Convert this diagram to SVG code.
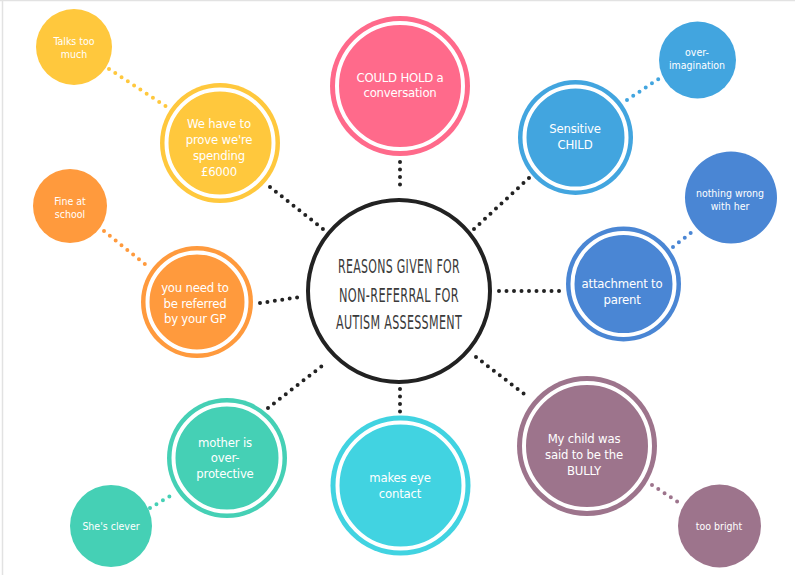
<svg xmlns="http://www.w3.org/2000/svg" width="795" height="575" viewBox="0 0 795 575">
<style>
.t{font-family:"Liberation Sans Narrow","DejaVu Sans Condensed","Liberation Sans",sans-serif;font-size:13px;fill:#fff;text-anchor:middle;letter-spacing:-0.2px}
.ts{font-size:10.5px;letter-spacing:0}
.ct{font-family:"Liberation Sans Narrow","DejaVu Sans Condensed","Liberation Sans",sans-serif;font-size:20px;fill:#3a3a3a;text-anchor:middle;letter-spacing:0.5px}
.dk{stroke:#222;stroke-width:4;stroke-linecap:round;stroke-dasharray:0 7.5;fill:none}
.dc{stroke-width:4;stroke-linecap:round;stroke-dasharray:0 7.5;fill:none}
.ring{stroke:#fff;stroke-width:4;fill:none}
</style>
<rect width="795" height="575" fill="#fff"/>
<line x1="0" y1="0.5" x2="795" y2="0.5" stroke="#e2e2e2" stroke-width="1.5"/>
<line x1="2.5" y1="0" x2="2.5" y2="575" stroke="#e2e2e2" stroke-width="1.5"/>

<g id="connectors">
<line class="dk" x1="400" y1="162" x2="400" y2="192"/>
<line class="dk" x1="270" y1="187" x2="323" y2="229"/>
<line class="dk" x1="474" y1="229" x2="530" y2="177"/>
<line class="dk" x1="499" y1="291" x2="560" y2="291"/>
<line class="dk" x1="260" y1="303" x2="300" y2="297"/>
<line class="dk" x1="268" y1="408" x2="322" y2="366"/>
<line class="dk" x1="400" y1="389" x2="400" y2="413"/>
<line class="dk" x1="476" y1="357" x2="528" y2="397"/>
<line class="dc" stroke="#FFC83D" x1="109" y1="69" x2="167" y2="107"/>
<line class="dc" stroke="#42A5DF" x1="627" y1="100" x2="660" y2="78"/>
<line class="dc" stroke="#4A86D4" x1="673" y1="247" x2="692" y2="232"/>
<line class="dc" stroke="#FF9A3D" x1="104" y1="231" x2="146" y2="265"/>
<line class="dc" stroke="#45D0B5" x1="150" y1="508" x2="172" y2="495"/>
<line class="dc" stroke="#9D748C" x1="652" y1="485" x2="678" y2="502"/>
</g>

<g id="center">
<circle cx="399" cy="291" r="91" fill="#fff" stroke="#222" stroke-width="4"/>
<text class="ct" x="399" y="273" textLength="122" lengthAdjust="spacingAndGlyphs">REASONS GIVEN FOR</text>
<text class="ct" x="399" y="302" textLength="120" lengthAdjust="spacingAndGlyphs">NON-REFERRAL FOR</text>
<text class="ct" x="399" y="329" textLength="126" lengthAdjust="spacingAndGlyphs">AUTISM ASSESSMENT</text>
</g>

<g id="conversation">
<circle cx="400" cy="86" r="70" fill="#FF6A8B"/>
<circle class="ring" cx="400" cy="86" r="63"/>
<text class="t" x="400" y="82">COULD HOLD a</text>
<text class="t" x="400" y="97">conversation</text>
</g>

<g id="spending">
<circle cx="220" cy="143" r="60" fill="#FFC83D"/>
<circle class="ring" cx="220" cy="143" r="53.5"/>
<text class="t" x="219" y="128">We have to</text>
<text class="t" x="219" y="144">prove we're</text>
<text class="t" x="219" y="160">spending</text>
<text class="t" x="219" y="176">£6000</text>
</g>

<g id="talks">
<circle cx="74" cy="47" r="38" fill="#FFC83D"/>
<text class="t ts" x="74" y="45">Talks too</text>
<text class="t ts" x="74" y="58">much</text>
</g>

<g id="sensitive">
<circle cx="575.5" cy="137.5" r="57.5" fill="#42A5DF"/>
<circle class="ring" cx="575.5" cy="137.5" r="51"/>
<text class="t" x="575" y="133">Sensitive</text>
<text class="t" x="575" y="149">CHILD</text>
</g>

<g id="imagination">
<circle cx="697.5" cy="60" r="38.5" fill="#42A5DF"/>
<text class="t ts" x="697" y="56">over-</text>
<text class="t ts" x="697" y="69">imagination</text>
</g>

<g id="nothing">
<circle cx="731" cy="197.5" r="46" fill="#4A86D4"/>
<text class="t ts" x="730" y="197">nothing wrong</text>
<text class="t ts" x="730" y="210">with her</text>
</g>

<g id="attachment">
<circle cx="623.5" cy="284" r="57.5" fill="#4A86D4"/>
<circle class="ring" cx="623.5" cy="284" r="51"/>
<text class="t" x="622" y="288">attachment to</text>
<text class="t" x="622" y="304">parent</text>
</g>

<g id="fine">
<circle cx="70" cy="206" r="37" fill="#FF9A3D"/>
<text class="t ts" x="70" y="205">Fine at</text>
<text class="t ts" x="70" y="218">school</text>
</g>

<g id="referred">
<circle cx="197" cy="302" r="56" fill="#FF9A3D"/>
<circle class="ring" cx="197" cy="302" r="49.5"/>
<text class="t" x="195" y="292">you need to</text>
<text class="t" x="195" y="308">be referred</text>
<text class="t" x="195" y="323">by your GP</text>
</g>

<g id="mother">
<circle cx="227" cy="458" r="60" fill="#45D0B5"/>
<circle class="ring" cx="227" cy="458" r="53.5"/>
<text class="t" x="225" y="447">mother is</text>
<text class="t" x="225" y="462">over-</text>
<text class="t" x="225" y="478">protective</text>
</g>

<g id="clever">
<circle cx="111" cy="526" r="41" fill="#45D0B5"/>
<text class="t ts" x="111" y="530">She's clever</text>
</g>

<g id="eyecontact">
<circle cx="400.5" cy="485.5" r="70" fill="#41D3E1"/>
<circle class="ring" cx="400.5" cy="485.5" r="63"/>
<text class="t" x="400" y="482">makes eye</text>
<text class="t" x="400" y="498">contact</text>
</g>

<g id="bully">
<circle cx="587" cy="446" r="70" fill="#9D748C"/>
<circle class="ring" cx="587" cy="446" r="63"/>
<text class="t" x="584" y="443">My child was</text>
<text class="t" x="584" y="459">said to be the</text>
<text class="t" x="584" y="475">BULLY</text>
</g>

<g id="toobright">
<circle cx="719.5" cy="526" r="41.5" fill="#9D748C"/>
<text class="t ts" x="719" y="530">too bright</text>
</g>
</svg>
